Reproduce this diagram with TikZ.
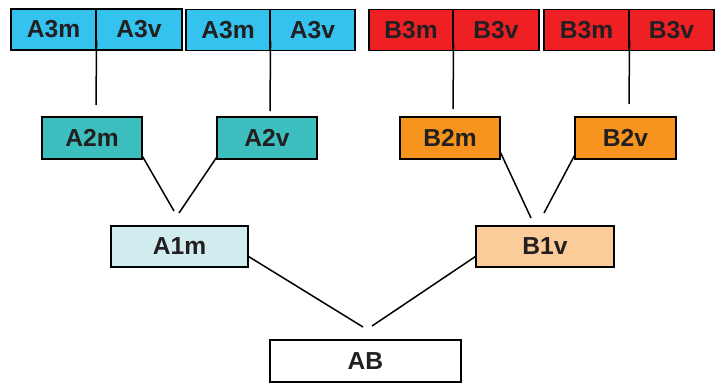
\documentclass[tikz,border=0pt]{standalone}
\usepackage{fontspec}
\setmainfont{Liberation Sans}
\definecolor{cA3}{HTML}{33C3EE}
\definecolor{cA2}{HTML}{3DBFBF}
\definecolor{cA1}{HTML}{D0ECEF}
\definecolor{cB3}{HTML}{EE2024}
\definecolor{cB2}{HTML}{F7941E}
\definecolor{cB1}{HTML}{FBCB99}
\definecolor{txt}{HTML}{231F20}
\begin{document}
\begin{tikzpicture}[x=1pt,y=-1pt,
  box/.style={draw=black, line width=1.1pt, inner sep=0pt, text=txt,
    font=\fontsize{24.6}{28}\selectfont\bfseries, minimum height=41pt},
  link/.style={line width=1.5pt, black}]
\useasboundingbox (0,0) rectangle (723,383);
% top row
\node[box, fill=cA3, minimum width=85pt] (A3m1) at (53.5,29.5) {A3m};
\node[box, fill=cA3, minimum width=86pt] (A3v1) at (139,29.5) {A3v};
\node[box, fill=cA3, minimum width=84pt] (A3m2) at (228,30) {A3m};
\node[box, fill=cA3, minimum width=85pt] (A3v2) at (312.5,30) {A3v};
\node[box, fill=cB3, minimum width=84pt] (B3m1) at (411,30) {B3m};
\node[box, fill=cB3, minimum width=86pt] (B3v1) at (496,30) {B3v};
\node[box, fill=cB3, minimum width=85pt] (B3m2) at (586.5,30) {B3m};
\node[box, fill=cB3, minimum width=85pt] (B3v2) at (671.5,30) {B3v};
% second row
\node[box, fill=cA2, minimum width=100pt, minimum height=42pt] (A2m) at (92,138) {A2m};
\node[box, fill=cA2, minimum width=100pt, minimum height=42pt] (A2v) at (267,138) {A2v};
\node[box, fill=cB2, minimum width=100pt, minimum height=42pt] (B2m) at (450,138) {B2m};
\node[box, fill=cB2, minimum width=101pt, minimum height=42pt] (B2v) at (625.5,138) {B2v};
% third row
\node[box, fill=cA1, minimum width=137pt] (A1m) at (179.5,246.5) {A1m};
\node[box, fill=cB1, minimum width=138pt] (B1v) at (545,246.5) {B1v};
% bottom
\node[box, fill=white, minimum width=191pt, minimum height=42pt] (AB) at (365.5,361) {AB};
% free ends
\coordinate (e1) at (96,105);
\coordinate (e2) at (270,111);
\coordinate (e3) at (453,109);
\coordinate (e4) at (629,104);
\coordinate (e5) at (174,211);
\coordinate (e6) at (179,213);
\coordinate (e7) at (531,218);
\coordinate (e8) at (544,213);
\coordinate (e9) at (363,327);
\coordinate (e10) at (372,326);
% connectors
\draw[link] ([yshift=10pt]A3m1.south east) -- (e1);
\draw[link] ([yshift=10pt]A3m2.south east) -- (e2);
\draw[link] ([yshift=8pt]B3m1.south east) -- (e3);
\draw[link] ([yshift=10pt]B3m2.south east) -- (e4);
\draw[link] ([yshift=3pt]A2m.south east) -- (e5);
\draw[link] ([yshift=2pt]A2v.south west) -- (e6);
\draw[link] ([yshift=7pt]B2m.south east) -- (e7);
\draw[link] ([yshift=4pt]B2v.south west) -- (e8);
\draw[link] ([yshift=-10pt]A1m.east) -- (e9);
\draw[link] ([yshift=-10pt]B1v.west) -- (e10);
\end{tikzpicture}
\end{document}
